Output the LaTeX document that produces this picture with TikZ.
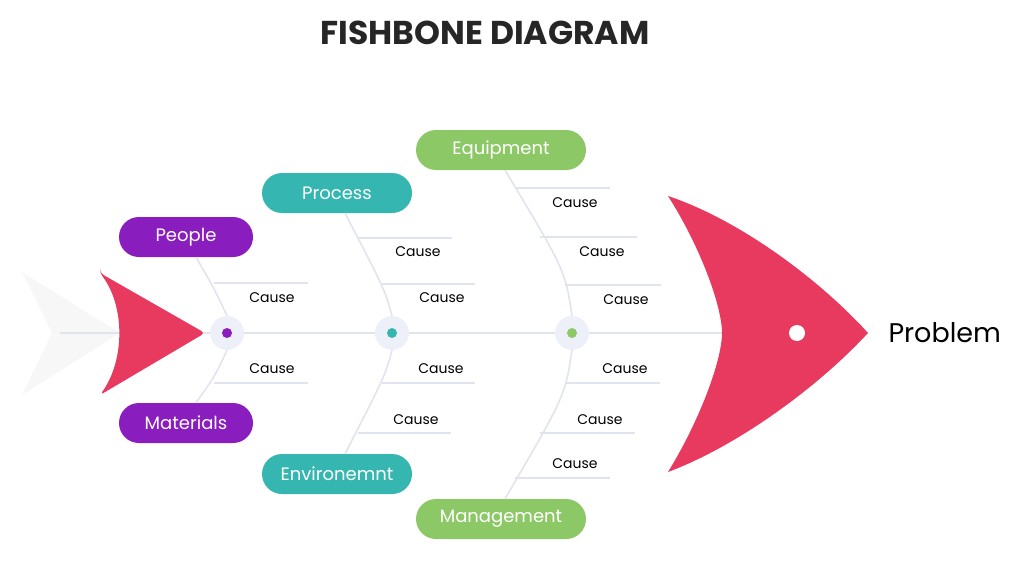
\documentclass[tikz,border=0pt]{standalone}
\usepackage{fontspec}
\setmainfont{Poppins}
\definecolor{bone}{HTML}{E1E4EF}
\definecolor{fishred}{HTML}{E83A5E}
\definecolor{purp}{HTML}{8A1DBE}
\definecolor{teal}{HTML}{36B6B0}
\definecolor{grn}{HTML}{8DC866}
\definecolor{jfill}{HTML}{EDF0F8}
\begin{document}
\begin{tikzpicture}[x=1pt,y=-1pt,
  pill/.style={rounded corners=20pt,minimum height=40pt,text=white,font=\fontsize{18}{20}\selectfont,inner sep=0pt},
  bn/.style={draw=bone,line width=1.6pt},
  cause/.style={font=\fontsize{14}{16}\selectfont,inner sep=0pt},
  jn/.style={circle,fill=jfill,minimum size=34pt,inner sep=0pt},
  dot/.style={circle,minimum size=10pt,inner sep=0pt}]
\useasboundingbox (0,0) rectangle (1015,570);
\node[font=\bfseries\fontsize{33}{36}\selectfont,text=black!85] (title) at (485,33) {FISHBONE DIAGRAM};
% tail ghost
\fill[gray!6] (22,272) -- (120,333) -- (22,395) -- (52,333) -- cycle;
% spine
\coordinate (s0) at (60,333);
\coordinate (s1) at (725,333);
\draw[bn] (s0) -- (s1);
% red tail
\fill[fishred,rounded corners=4pt] (100,273) -- (205,333) -- (100,395) .. controls (125,360) and (125,306) .. cycle;
% head
\fill[fishred] (668,196) .. controls (740,220) and (820,280) .. (868,333)
  .. controls (820,385) and (740,445) .. (668,472)
  .. controls (700,420) and (722,360) .. (722,333)
  .. controls (722,306) and (700,246) .. cycle;
\node[circle,fill=white,minimum size=16pt,inner sep=0pt] (eye) at (797,333) {};
\node[anchor=west,font=\fontsize{27}{30}\selectfont] (prob) at (885,333) {Problem};
% pills
\node[pill,fill=purp,minimum width=134pt] (people) at (186,237) {People};
\node[pill,fill=purp,minimum width=134pt] (mat) at (186,423) {Materials};
\node[pill,fill=teal,minimum width=150pt] (proc) at (337,193) {Process};
\node[pill,fill=teal,minimum width=150pt] (env) at (337,474) {Environemnt};
\node[pill,fill=grn,minimum width=170pt] (equip) at (501,150) {Equipment};
\node[pill,fill=grn,minimum width=170pt] (mgmt) at (501,519) {Management};
% junctions
\node[jn] (j1) at (227,333) {};
\node[jn] (j2) at (392,333) {};
\node[jn] (j3) at (572,333) {};
\node[dot,fill=purp] at (j1) {};
\node[dot,fill=teal] at (j2) {};
\node[dot,fill=grn] at (j3) {};
% bones
\draw[bn] (people.south) ++(10,0) coordinate (pb) (pb) .. controls (215,290) .. (j1.north);
\draw[bn] (mat.north) ++(10,0) coordinate (mb) (mb) .. controls (215,376) .. (j1.south);
\draw[bn] (proc.south) ++(8,0) coordinate (prb) (prb) .. controls (385,290) .. (j2.north);
\draw[bn] (env.north) ++(8,0) coordinate (eb) (eb) .. controls (385,376) .. (j2.south);
\draw[bn] (equip.south) ++(4,0) coordinate (qb) (qb) .. controls (565,270) .. (j3.north);
\draw[bn] (mgmt.north) ++(4,0) coordinate (gb) (gb) .. controls (565,396) .. (j3.south);
% cause lines
\foreach \y/\a/\b/\tx/\ty/\n in {
 283/214/308/272/298/c1, 383/214/308/272/369/c2,
 238/358/452/418/252/c3, 284/382/475/442/298/c4,
 383/382/475/441/369/c5, 433/358/451/416/420/c6,
 188/515/610/575/203/c7, 237/540/637/602/252/c8, 285/565/661/626/300/c9,
 383/565/660/625/369/c10, 433/540/635/600/420/c11, 478/515/610/575/464/c12}{
 \coordinate (\n a) at (\a,\y);
 \coordinate (\n b) at (\b,\y);
 \draw[bn] (\n a) -- (\n b);
 \node[cause] (\n) at (\tx,\ty) {Cause};
}
\end{tikzpicture}
\end{document}
